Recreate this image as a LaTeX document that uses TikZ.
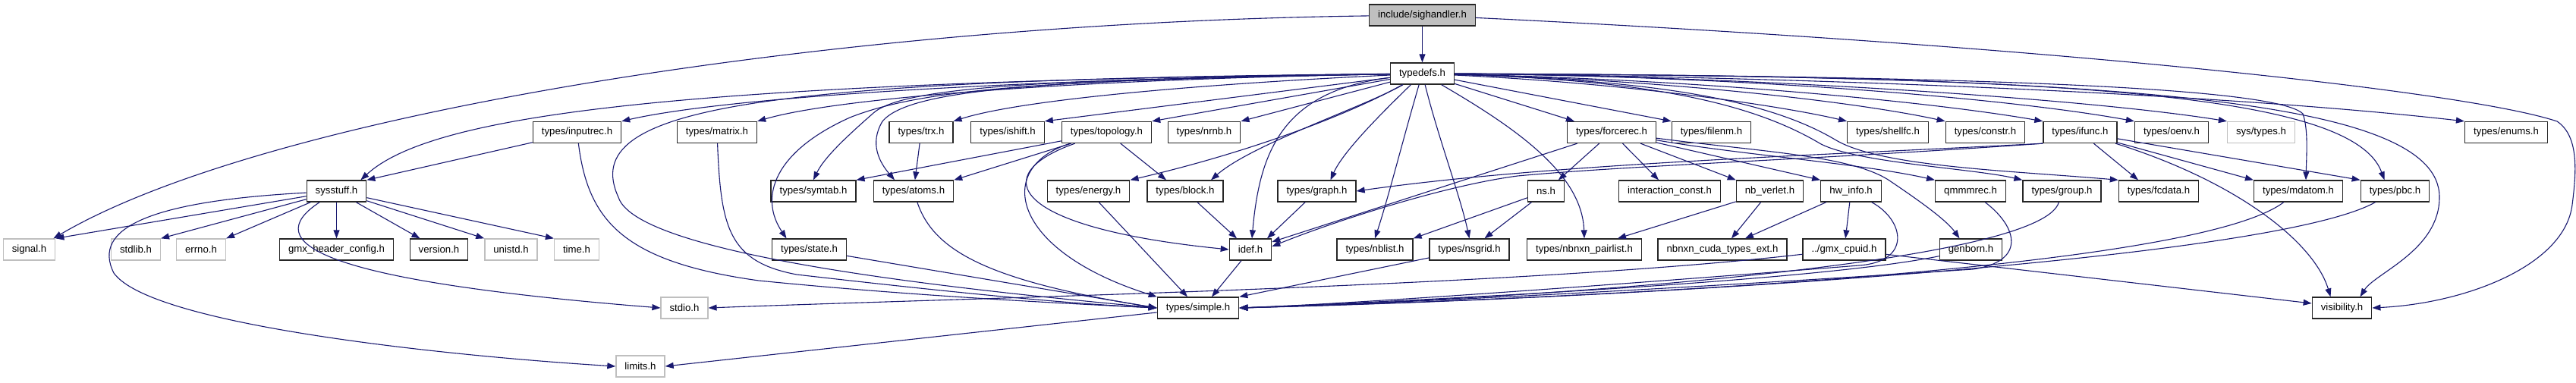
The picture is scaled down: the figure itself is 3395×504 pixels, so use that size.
\documentclass[tikz,border=0pt]{standalone}
\usepackage{fontspec}
\setmainfont{Liberation Sans}
\usepackage{tikz}
\usetikzlibrary{arrows.meta}
\definecolor{dblue}{HTML}{191970}
\definecolor{dgray}{HTML}{BFBFBF}

\begin{document}
\begin{tikzpicture}[x=1pt, y=-1pt, font=\fontsize{13.2}{15}\selectfont,
  hdr/.style={draw=black!85, line width=1.3pt, fill=white, minimum height=28pt, inner xsep=11.5pt, inner ysep=0pt},
  syshdr/.style={hdr, draw=dgray},
  mainhdr/.style={hdr, fill=dgray},
  arr/.style={-{Triangle[length=11pt, width=8pt]}, color=dblue, line width=1.1pt}]
\useasboundingbox (0,0) rectangle (3395,504);
\node[mainhdr] (sighandler) at (1874.5,20) {include/sighandler.h};
\node[hdr] (typedefs) at (1874.5,97) {typedefs.h};
\node[hdr] (inputrec) at (760.5,174.5) {types/inputrec.h};
\node[hdr] (matrix) at (945,174.5) {types/matrix.h};
\node[hdr] (trx) at (1214,174.5) {types/trx.h};
\node[hdr] (ishift) at (1328,174.5) {types/ishift.h};
\node[hdr] (topology) at (1458.5,174.5) {types/topology.h};
\node[hdr] (nrnb) at (1587,174.5) {types/nrnb.h};
\node[hdr] (forcerec) at (2124,174.5) {types/forcerec.h};
\node[hdr] (filenm) at (2255.5,174.5) {types/filenm.h};
\node[hdr] (shellfc) at (2488,174.5) {types/shellfc.h};
\node[hdr] (constr) at (2616.5,174.5) {types/constr.h};
\node[hdr] (ifunc) at (2741.5,174.5) {types/ifunc.h};
\node[hdr] (oenv) at (2862,174.5) {types/oenv.h};
\node[syshdr] (systypes) at (2980,174.5) {sys/types.h};
\node[hdr] (enums) at (3303,174.5) {types/enums.h};
\node[hdr] (sysstuff) at (443.5,252) {sysstuff.h};
\node[hdr] (symtab) at (1072,252) {types/symtab.h};
\node[hdr] (atoms) at (1204,252) {types/atoms.h};
\node[hdr] (energy) at (1434.5,252) {types/energy.h};
\node[hdr] (block) at (1562,252) {types/block.h};
\node[hdr] (graph) at (1735.5,252) {types/graph.h};
\node[hdr] (ns) at (2037.5,252) {ns.h};
\node[hdr] (interconst) at (2200.5,252) {interaction\_const.h};
\node[hdr] (nbverlet) at (2332.5,252) {nb\_verlet.h};
\node[hdr] (hwinfo) at (2439.5,252) {hw\_info.h};
\node[hdr] (qmmmrec) at (2597,252) {qmmmrec.h};
\node[hdr] (group) at (2717.5,252) {types/group.h};
\node[hdr] (fcdata) at (2845,252) {types/fcdata.h};
\node[hdr] (mdatom) at (3029,252) {types/mdatom.h};
\node[hdr] (pbc) at (3156.5,252) {types/pbc.h};
\node[syshdr] (signal) at (38.5,329) {signal.h};
\node[syshdr] (stdlib) at (179,329) {stdlib.h};
\node[syshdr] (errno) at (265,329) {errno.h};
\node[hdr] (gmxconfig) at (443.5,329) {gmx\_header\_config.h};
\node[hdr] (version) at (578.5,329) {version.h};
\node[syshdr] (unistd) at (673.5,329) {unistd.h};
\node[syshdr] (time) at (760,329) {time.h};
\node[hdr] (state) at (1066.5,329) {types/state.h};
\node[hdr] (idef) at (1648,329) {idef.h};
\node[hdr] (nblist) at (1812,329) {types/nblist.h};
\node[hdr] (nsgrid) at (1936.5,329) {types/nsgrid.h};
\node[hdr] (pairlist) at (2088,329) {types/nbnxn\_pairlist.h};
\node[hdr] (cudaext) at (2270,329) {nbnxn\_cuda\_types\_ext.h};
\node[hdr] (cpuid) at (2430.5,329) {../gmx\_cpuid.h};
\node[hdr] (genborn) at (2597.5,329) {genborn.h};
\node[syshdr] (stdio) at (902,406) {stdio.h};
\node[hdr] (simple) at (1579,406) {types/simple.h};
\node[hdr] (visibility) at (3086.5,406) {visibility.h};
\node[syshdr] (limits) at (844,483) {limits.h};
\draw[arr] (sighandler) -- (typedefs);
\draw[arr] (sighandler) .. controls (1100,30) and (350,150) .. ([xshift=-3]signal.north east);
\draw[arr] (sighandler) .. controls (2700,60) and (3250,120) .. (3370,160) .. controls (3400,180) and (3395,230) .. (3390,270) .. controls (3380,350) and (3250,400) .. (visibility.east);
\draw[arr] (typedefs) .. controls (900,108) and (570,150) .. ([xshift=-8]sysstuff.north east);
\draw[arr] (typedefs) .. controls (1300,105) and (950,130) .. (inputrec.north east);
\draw[arr] (typedefs) .. controls (1400,105) and (1100,130) .. (matrix.north east);
\draw[arr] (typedefs) .. controls (1000,105) and (760,140) .. (815,260) .. controls (840,340) and (1300,385) .. (simple.west);
\draw[arr] (typedefs) .. controls (1600,110) and (1350,130) .. (trx.north east);
\draw[arr] (typedefs) -- (ishift.north east);
\draw[arr] (typedefs) -- (topology.north east);
\draw[arr] (typedefs) -- (nrnb.north east);
\draw[arr] (typedefs) .. controls (1400,105) and (1190,112) .. (1150,150) .. controls (1110,185) and (1085,210) .. (symtab.north);
\draw[arr] (typedefs) .. controls (1400,105) and (1200,115) .. (1163,160) .. controls (1145,190) and (1160,215) .. ([xshift=-25]atoms.north);
\draw[arr] (typedefs) .. controls (1400,105) and (1220,115) .. (1120,155) .. controls (1020,200) and (1000,260) .. ([xshift=-30]state.north);
\draw[arr] (typedefs) .. controls (1780,150) and (1650,200) .. (energy.north east);
\draw[arr] (typedefs) .. controls (1800,140) and (1650,190) .. ([xshift=34]block.north);
\draw[arr] (typedefs) .. controls (1690,120) and (1660,200) .. ([xshift=2]idef.north);
\draw[arr] (typedefs) .. controls (1820,150) and (1770,200) .. ([xshift=18]graph.north);
\draw[arr] (typedefs) .. controls (1850,180) and (1830,260) .. (nblist.north);
\draw[arr] (typedefs) .. controls (1895,180) and (1925,260) .. (nsgrid.north);
\draw[arr] (typedefs) .. controls (2000,170) and (2085,230) .. (pairlist.north);
\draw[arr] (typedefs) -- ([xshift=10]forcerec.north west);
\draw[arr] (typedefs) -- (filenm.north west);
\draw[arr] (typedefs) .. controls (2150,110) and (2350,140) .. (shellfc.north west);
\draw[arr] (typedefs) .. controls (2200,105) and (2450,135) .. (constr.north west);
\draw[arr] (typedefs) .. controls (2250,105) and (2550,135) .. (ifunc.north west);
\draw[arr] (typedefs) .. controls (2300,100) and (2650,130) .. (oenv.north west);
\draw[arr] (typedefs) .. controls (2300,100) and (2750,130) .. (systypes.north west);
\draw[arr] (typedefs) .. controls (2300,100) and (2900,120) .. (enums.north west);
\draw[arr] (typedefs) .. controls (2150,105) and (2320,125) .. (2420,185) .. controls (2480,220) and (2650,225) .. (fcdata.north west);
\draw[arr] (typedefs) .. controls (2150,105) and (2300,130) .. (2400,190) .. controls (2450,215) and (2600,222) .. (group.north west);
\draw[arr] (typedefs) .. controls (2600,100) and (3000,115) .. (3035,150) .. controls (3042,170) and (3040,200) .. ([xshift=10]mdatom.north);
\draw[arr] (typedefs) .. controls (2700,100) and (3100,120) .. ([xshift=-14]pbc.north);
\draw[arr] (typedefs) .. controls (2800,100) and (3215,130) .. (3215,260) .. controls (3215,330) and (3130,360) .. ([xshift=24]visibility.north);
\draw[arr] (forcerec) -- ([yshift=10]idef.east);
\draw[arr] (forcerec) -- (ns);
\draw[arr] (forcerec) -- (interconst);
\draw[arr] (forcerec) -- (nbverlet.north west);
\draw[arr] (forcerec) -- (hwinfo.north west);
\draw[arr] (forcerec) .. controls (2300,205) and (2450,215) .. (qmmmrec.north west);
\draw[arr] (forcerec) .. controls (2320,200) and (2440,205) .. (2490,238) .. controls (2530,265) and (2565,290) .. ([xshift=-15]genborn.north);
\draw[arr] (ns) -- (nblist.north east);
\draw[arr] (ns) -- ([xshift=20]nsgrid.north);
\draw[arr] (nbverlet) -- ([xshift=44]pairlist.north);
\draw[arr] (nbverlet) -- ([xshift=12]cudaext.north);
\draw[arr] (hwinfo) -- ([xshift=30]cudaext.north);
\draw[arr] (hwinfo) -- (cpuid);
\draw[arr] (hwinfo) .. controls (2510,290) and (2520,345) .. (2450,350) .. controls (2200,370) and (1800,400) .. (simple.east);
\draw[arr] (cpuid) .. controls (2000,378) and (1300,392) .. (stdio.east);
\draw[arr] (cpuid) -- ([yshift=6]visibility.west);
\draw[arr] (genborn) .. controls (2400,370) and (1900,395) .. (simple.east);
\draw[arr] (qmmmrec) .. controls (2660,300) and (2670,345) .. (2600,355) .. controls (2300,375) and (1900,398) .. (simple.east);
\draw[arr] (group) .. controls (2690,350) and (2000,395) .. (simple.east);
\draw[arr] (mdatom) .. controls (2900,350) and (2200,390) .. (simple.east);
\draw[arr] (pbc) .. controls (3000,340) and (2200,392) .. (simple.east);
\draw[arr] (nsgrid) -- (simple.north east);
\draw[arr] (idef) -- ([xshift=18]simple.north);
\draw[arr] (energy) -- ([xshift=-14]simple.north);
\draw[arr] (atoms) .. controls (1230,330) and (1300,370) .. (simple.west);
\draw[arr] (topology) .. controls (1310,220) and (1330,330) .. (simple.north west);
\draw[arr] (topology) .. controls (1300,230) and (1330,300) .. (idef.west);
\draw[arr] (topology) -- (symtab.north east);
\draw[arr] (topology) -- (atoms.north east);
\draw[arr] (topology) -- ([xshift=-25]block.north);
\draw[arr] (trx) -- (atoms);
\draw[arr] (block) -- ([xshift=-18]idef.north);
\draw[arr] (graph) -- ([xshift=22]idef.north);
\draw[arr] (ifunc.south west) .. controls (2400,205) and (2050,215) .. (graph.east);
\draw[arr] (ifunc.south west) .. controls (2400,210) and (2150,218) .. (2000,232) .. controls (1900,245) and (1750,295) .. ([yshift=4]idef.east);
\draw[arr] (ifunc) -- ([xshift=-27]fcdata.north);
\draw[arr] (ifunc) -- (mdatom.north west);
\draw[arr] (ifunc) -- (pbc.north west);
\draw[arr] (ifunc) .. controls (2950,240) and (3050,320) .. ([xshift=-15]visibility.north);
\draw[arr] (inputrec) -- (sysstuff.north east);
\draw[arr] (inputrec) .. controls (775,290) and (820,345) .. (1000,370) .. controls (1200,390) and (1400,400) .. (simple.west);
\draw[arr] (matrix) .. controls (950,300) and (960,345) .. (1050,362) .. controls (1250,385) and (1400,400) .. (simple.west);
\draw[arr] (state) -- (simple.west);
\draw[arr] (sysstuff) -- (signal.north east);
\draw[arr] (sysstuff) -- (stdlib.north east);
\draw[arr] (sysstuff) -- (errno.north east);
\draw[arr] (sysstuff) -- (gmxconfig);
\draw[arr] (sysstuff) -- ([xshift=-25]version.north);
\draw[arr] (sysstuff) -- (unistd.north west);
\draw[arr] (sysstuff) -- (time.north west);
\draw[arr] (sysstuff) .. controls (340,320) and (420,370) .. (stdio.west);
\draw[arr] (sysstuff) .. controls (200,265) and (120,300) .. (150,360) .. controls (200,430) and (600,470) .. (limits.west);
\draw[arr] (simple) -- (limits.east);
\end{tikzpicture}
\end{document}
